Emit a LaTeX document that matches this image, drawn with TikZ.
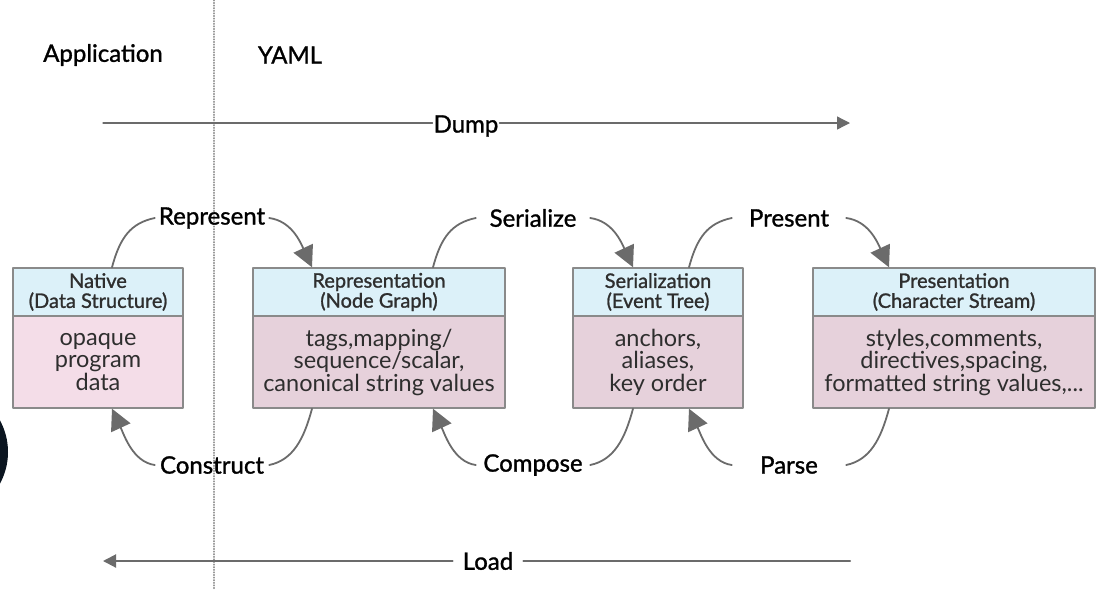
\documentclass[tikz,border=0pt]{standalone}
\usepackage{fontspec}
\setmainfont{Lato}
\newfontfamily\semib{Lato}[FakeBold=1.2]
\usetikzlibrary{arrows.meta}
\definecolor{headblue}{HTML}{DCF1F9}
\definecolor{natpink}{HTML}{F4DDE8}
\definecolor{mauve}{HTML}{E6D1DB}
\definecolor{edgegray}{HTML}{8A8A8A}
\definecolor{wiregray}{HTML}{6B6B6B}
\definecolor{ink}{HTML}{2E2E2E}
\definecolor{blob}{HTML}{0B1520}
\begin{document}
\begin{tikzpicture}[x=1pt, y=-1pt, line cap=round, line join=round,
  head/.style={draw=edgegray, line width=1.4pt, fill=headblue, inner sep=0pt, minimum height=48pt, align=center, text=ink, font=\semib\fontsize{20}{20}\selectfont},
  body/.style={draw=edgegray, line width=1.4pt, inner sep=0pt, minimum height=92pt, align=center, text=ink, font=\fontsize{23.5}{22.5}\selectfont},
  lbl/.style={inner sep=0pt, minimum width=114pt, minimum height=26pt, font=\semib\fontsize{24}{26}\selectfont},
  wire/.style={draw=wiregray, line width=1.8pt},
  bigtip/.style={-{Triangle[length=21pt,width=21pt]}},
  smalltip/.style={-{Triangle[length=13pt,width=13pt]}}]
\useasboundingbox (0,0) rectangle (1105,590);
\begin{scope}
\clip (0,0) rectangle (1105,590);
\fill[blob] (-58,452) circle[radius=66pt];
\end{scope}
% application / yaml divider
\draw[gray!80, line width=1.2pt, dash pattern=on 0.8pt off 1.8pt] (214,0) -- (214,590);
\node[lbl, minimum width=0pt] (app) at (103,55) {Application};
\node[lbl, minimum width=0pt] (yaml) at (290,55) {YAML};
% the four stages
\foreach \nm/\cx/\w/\hd/\bd/\bg in {
  nat/98/170/{Native\\(Data Structure)}/{opaque\\program\\data}/natpink,
  repr/379/252/{Representation\\(Node Graph)}/{tags,mapping/\\sequence/scalar,\\canonical string values}/mauve,
  ser/658/170/{Serialization\\(Event Tree)}/{anchors,\\aliases,\\key order}/mauve,
  pres/954/282/{Presentation\\(Character Stream)}/{styles,comments,\\directives,spacing,\\formatted string values,...}/mauve}{
  \node[head, minimum width=\w pt] (\nm) at (\cx,292) {\hd};
  \node[body, minimum width=\w pt, fill=\bg] (\nm-b) at (\cx,362) {\bd};
}
\node[lbl] (represent) at (212,218) {Represent};
\node[lbl] (serialize) at (533,218) {Serialize};
\node[lbl] (present) at (789,218) {Present};
\node[lbl] (construct) at (212,465) {Construct};
\node[lbl] (compose) at (533,465) {Compose};
\node[lbl] (parse) at (789,465) {Parse};
\foreach \a/\l/\b in {nat/represent/repr, repr/serialize/ser, ser/present/pres}{
  \draw[wire] ([xshift=-100pt]\l.center |- \a.north) .. controls +(8,-30) and +(-24,5) .. (\l.west);
  \draw[wire, bigtip] (\l.east) .. controls +(22,3) and +(-12,-26) .. ([xshift=100pt]\l.center |- \b.north);
}
\foreach \a/\l/\b in {nat/construct/repr, repr/compose/ser, ser/parse/pres}{
  \draw[wire] ([xshift=100pt]\l.center |- \b-b.south) .. controls +(-8,30) and +(24,-5) .. (\l.east);
  \draw[wire, bigtip] (\l.west) .. controls +(-22,-3) and +(12,26) .. ([xshift=-100pt]\l.center |- \a-b.south);
}
% dump and load
\coordinate (dumpL) at (103,123);
\coordinate (dumpR) at (850,123);
\node[lbl, minimum width=0pt, inner sep=1pt] (dump) at (466,126) {Dump};
\draw[wiregray, line width=1.3pt] (dumpL) -- (dumpL -| dump.west);
\draw[wiregray, line width=1.3pt, smalltip] (dumpR -| dump.east) -- (dumpR);
\coordinate (loadL) at (103,561);
\coordinate (loadR) at (850,561);
\node[lbl, minimum width=0pt, inner sep=10pt] (load) at (488,561) {Load};
\draw[wiregray, line width=2pt] (loadR) -- (loadR -| load.east);
\draw[wiregray, line width=2pt, smalltip] (loadL -| load.west) -- (loadL);
\end{tikzpicture}
\end{document}
